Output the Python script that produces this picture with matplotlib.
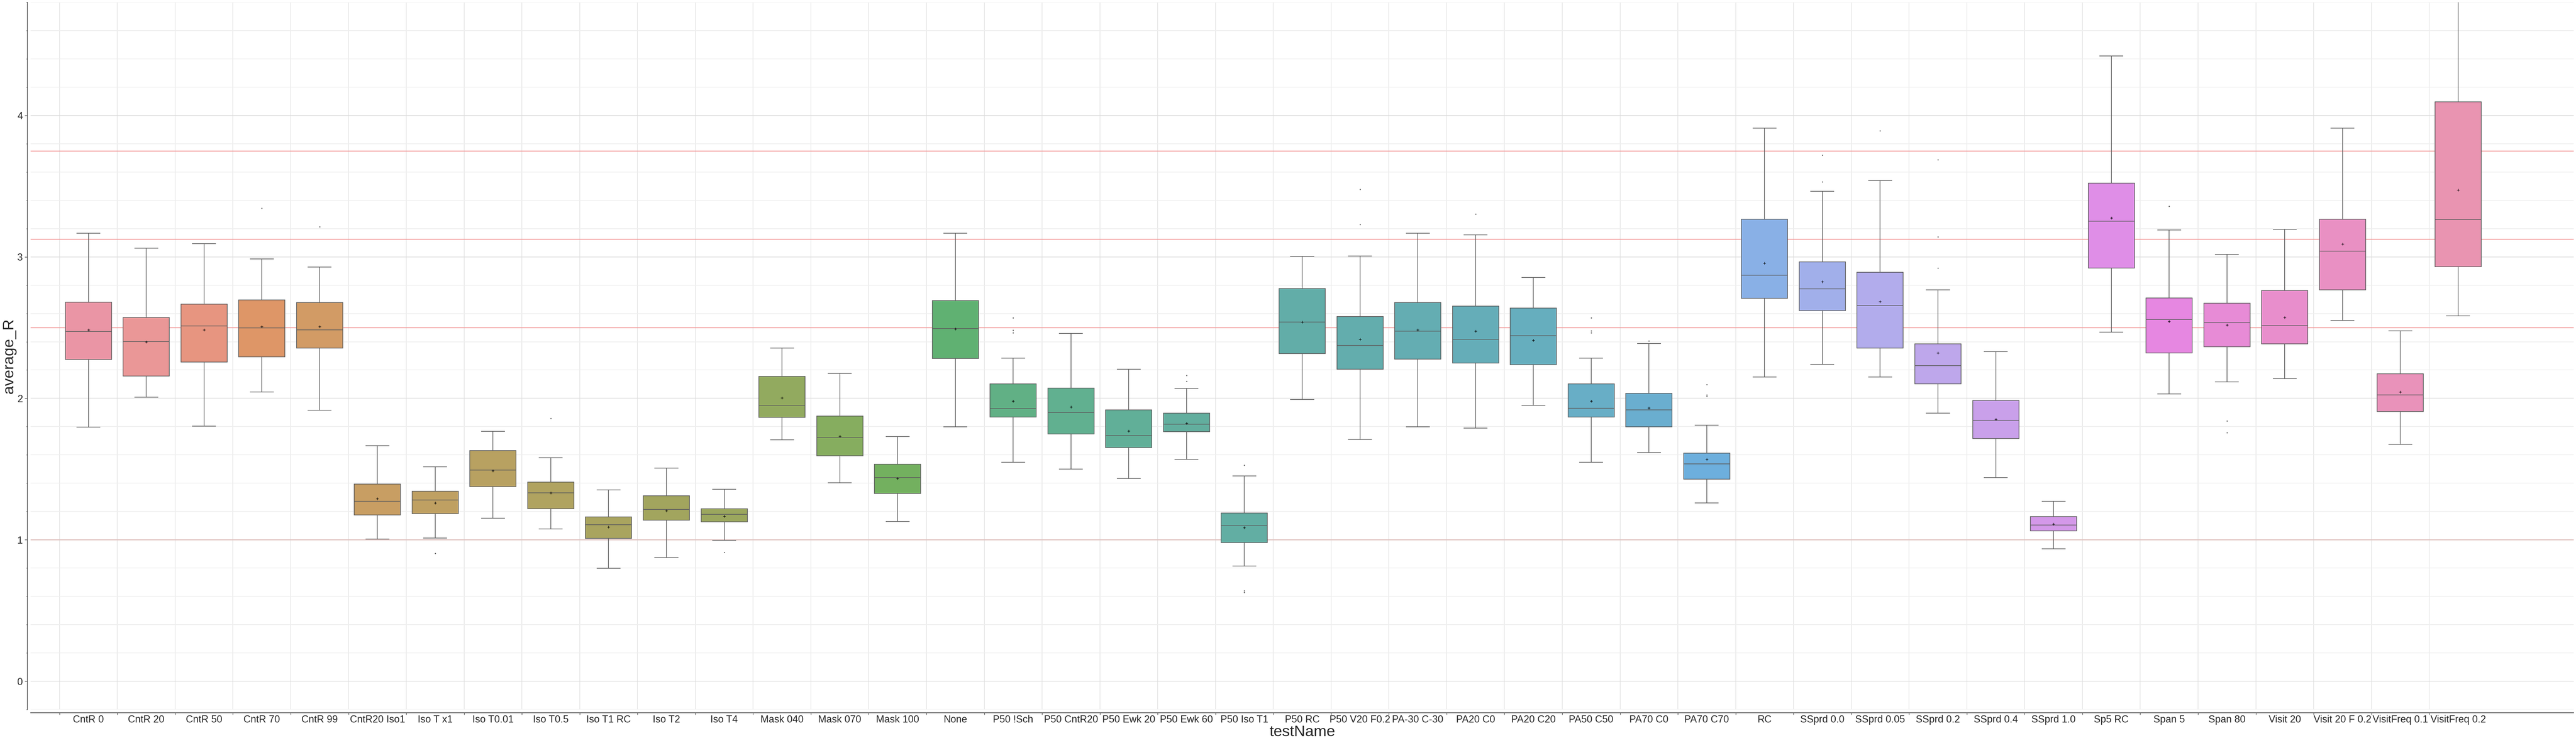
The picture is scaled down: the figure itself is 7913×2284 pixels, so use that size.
import numpy as np
import matplotlib
matplotlib.use("Agg")
import matplotlib.pyplot as plt
from matplotlib.ticker import MultipleLocator
import seaborn as sns

# values (box stats per testName)
test_names = ["CntR 0", "CntR 20", "CntR 50", "CntR 70", "CntR 99", "CntR20 Iso1",
              "Iso T x1", "Iso T0.01", "Iso T0.5", "Iso T1 RC", "Iso T2", "Iso T4",
              "Mask 040", "Mask 070", "Mask 100", "None", "P50 !Sch", "P50 CntR20",
              "P50 Ewk 20", "P50 Ewk 60", "P50 Iso T1", "P50 RC", "P50 V20 F0.2",
              "PA-30 C-30", "PA20 C0", "PA20 C20", "PA50 C50", "PA70 C0", "PA70 C70",
              "RC", "SSprd 0.0", "SSprd 0.05", "SSprd 0.2", "SSprd 0.4", "SSprd 1.0",
              "Sp5 RC", "Span 5", "Span 80", "Visit 20", "Visit 20 F 0.2",
              "VisitFreq 0.1", "VisitFreq 0.2"]

whisker_low = [1.797, 2.008, 1.804, 2.045, 1.916, 1.006, 1.012, 1.152, 1.076, 0.798,
               0.874, 0.997, 1.707, 1.402, 1.129, 1.798, 1.548, 1.499, 1.434, 1.569,
               0.815, 1.991, 1.710, 1.798, 1.789, 1.950, 1.548, 1.616, 1.261, 2.150,
               2.241, 2.150, 1.895, 1.440, 0.936, 2.469, 2.032, 2.117, 2.138, 2.551,
               1.675, 2.584]
q1 = [2.275, 2.158, 2.257, 2.292, 2.355, 1.176, 1.185, 1.375, 1.220, 1.009,
      1.138, 1.126, 1.865, 1.595, 1.326, 2.282, 1.868, 1.748, 1.651, 1.765,
      0.979, 2.317, 2.205, 2.276, 2.249, 2.238, 1.868, 1.798, 1.428, 2.707,
      2.619, 2.355, 2.103, 1.716, 1.062, 2.921, 2.320, 2.364, 2.384, 2.768,
      1.906, 2.930]
median = [2.473, 2.401, 2.511, 2.497, 2.484, 1.273, 1.282, 1.493, 1.331, 1.106,
          1.214, 1.179, 1.950, 1.722, 1.440, 2.493, 1.927, 1.900, 1.736, 1.818,
          1.100, 2.540, 2.373, 2.475, 2.417, 2.443, 1.930, 1.918, 1.537, 2.871,
          2.774, 2.657, 2.232, 1.845, 1.103, 3.253, 2.557, 2.534, 2.513, 3.041,
          2.024, 3.264]
q3 = [2.679, 2.571, 2.665, 2.696, 2.677, 1.393, 1.343, 1.631, 1.408, 1.161,
      1.311, 1.220, 2.156, 1.874, 1.534, 2.692, 2.103, 2.073, 1.918, 1.895,
      1.188, 2.777, 2.578, 2.678, 2.651, 2.637, 2.103, 2.035, 1.613, 3.267,
      2.965, 2.892, 2.384, 1.985, 1.164, 3.522, 2.710, 2.672, 2.763, 3.267,
      2.173, 4.097]
whisker_high = [3.167, 3.062, 3.093, 2.985, 2.928, 1.666, 1.516, 1.766, 1.581, 1.352,
                1.507, 1.358, 2.355, 2.176, 1.730, 3.167, 2.285, 2.458, 2.205, 2.071,
                1.452, 3.003, 3.006, 3.167, 3.156, 2.854, 2.285, 2.387, 1.810, 3.909,
                3.464, 3.540, 2.768, 2.329, 1.273, 4.420, 3.191, 3.018, 3.194, 3.909,
                2.478, 5.100]
mean_r = [2.483, 2.399, 2.483, 2.506, 2.508, 1.290, 1.261, 1.487, 1.331, 1.091,
          1.205, 1.167, 2.003, 1.733, 1.434, 2.490, 1.980, 1.939, 1.768, 1.824,
          1.085, 2.540, 2.417, 2.484, 2.475, 2.411, 1.980, 1.933, 1.569, 2.956,
          2.824, 2.683, 2.320, 1.851, 1.111, 3.276, 2.543, 2.519, 2.572, 3.091,
          2.044, 3.472]
outliers = [[], [], [], [3.345], [3.214], [], [0.903], [], [1.859], [], [], [0.912],
            [], [], [], [], [2.569, 2.481, 2.464], [], [], [2.162, 2.120],
            [1.528, 0.640, 0.628], [], [3.478, 3.229], [], [3.302], [],
            [2.569, 2.478, 2.464], [2.405], [2.097, 2.024, 2.015], [],
            [3.719, 3.531], [3.892], [3.687, 3.141, 2.921], [], [], [], [3.358],
            [1.839, 1.757], [], [], [], []]

ref_lines = [2.5, 3.125, 3.75]
unity_line = 1.0

plt.rcParams['font.family'] = ['Liberation Sans', 'DejaVu Sans']
text_col = '#262626'
line_gray = '#5e5e5e'

fig = plt.figure(figsize=(79.13, 22.84), dpi=100)
ax = fig.add_axes([94 / 7913, 103 / 2284, (7906 - 94) / 7913, (2181 - 7) / 2284])

n = len(test_names)
# husl palette, desaturated like seaborn boxes, then lightened a bit
colors = [tuple(0.84 * np.array(sns.desaturate(c, 0.75)) + 0.16) for c in sns.husl_palette(n)]

stats = []
for i in range(n):
    stats.append(dict(label=test_names[i], whislo=whisker_low[i], q1=q1[i], med=median[i],
                      q3=q3[i], whishi=whisker_high[i], mean=mean_r[i], fliers=outliers[i]))

bp = ax.bxp(stats, positions=np.arange(n), widths=0.8, showmeans=True, patch_artist=True,
            manage_ticks=False,
            boxprops=dict(edgecolor=line_gray, linewidth=1.5),
            whiskerprops=dict(color=line_gray, linewidth=1.5),
            capprops=dict(color=line_gray, linewidth=1.5),
            medianprops=dict(color=line_gray, linewidth=1.5),
            meanprops=dict(marker='+', markeredgecolor='black', markersize=6, markeredgewidth=1),
            flierprops=dict(marker='o', markersize=1.6, markerfacecolor=line_gray,
                            markeredgecolor=line_gray))
for patch, c in zip(bp['boxes'], colors):
    patch.set_facecolor(c)

for v in ref_lines:
    ax.axhline(v, color='#f39c9c', lw=2.0, zorder=1.5)
ax.axhline(unity_line, color='#e0bfbc', lw=2.0, zorder=1.5)

ax.set_xlim(-1, 43)
ax.set_ylim(-0.2, 4.8)

# ticks on the category boundaries, labels in the middle
ax.set_xticks(np.arange(-0.5, n - 1, 1))
ax.set_xticklabels([])
ax.set_xticks(np.arange(n), minor=True)
ax.set_xticklabels(test_names, minor=True)
ax.tick_params(axis='x', which='major', length=4, width=1, color=text_col)
ax.tick_params(axis='x', which='minor', length=0, pad=5, labelsize=22, labelcolor=text_col)

ax.yaxis.set_major_locator(MultipleLocator(1))
ax.yaxis.set_minor_locator(MultipleLocator(0.2))
ax.tick_params(axis='y', which='major', length=6, width=1, color=text_col, pad=4,
               labelsize=22, labelcolor=text_col)
ax.tick_params(axis='y', which='minor', length=2.5, width=1, color=text_col)

ax.set_axisbelow(True)
ax.xaxis.grid(True, which='major', color='#dcdcdc', lw=1.1)
ax.yaxis.grid(True, which='major', color='#dcdcdc', lw=1.6)
ax.yaxis.grid(True, which='minor', color='#eeeeee', lw=1.6)

for side in ['top', 'right']:
    ax.spines[side].set_visible(False)
for side in ['left', 'bottom']:
    ax.spines[side].set_position(('outward', 7.2))
    ax.spines[side].set_color(text_col)
    ax.spines[side].set_linewidth(1.2)

ax.set_xlabel('testName', fontsize=34, color=text_col, labelpad=1)
ax.set_ylabel('average_R', fontsize=34, color=text_col, labelpad=2)

fig.savefig('out.png', dpi=100)
